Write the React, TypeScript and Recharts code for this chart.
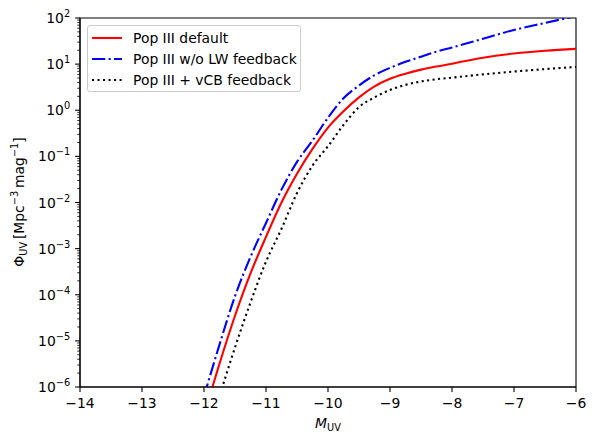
import React from "react";
import { LineChart, Line, XAxis, YAxis, ReferenceArea } from "recharts";

// Absolute UV magnitude grid
const magnitudes = [-12, -11.75, -11.5, -11.25, -11, -10.75, -10.5, -10.25, -10, -9.75, -9.5, -9.25, -9, -8.75, -8.5, -8.25, -8, -7.5, -7, -6.5, -6];

// Phi_UV [Mpc^-3 mag^-1] for each model
const popIIIDefault = [2.4e-7, 3.2e-6, 3.5e-5, 2.9e-4, 1.8e-3, 1.0e-2, 4.2e-2, 0.145, 0.42, 0.95, 1.9, 3.3, 4.8, 6.2, 7.6, 8.9, 10.2, 13.8, 17.0, 19.5, 21.4];
const popIIINoLW = [6.3e-7, 8.3e-6, 9.3e-5, 6.6e-4, 3.6e-3, 1.9e-2, 7.6e-2, 0.22, 0.69, 1.82, 3.45, 5.75, 8.3, 11.2, 14.5, 18.6, 22.9, 35.5, 55, 78, 110];
const popIIIvCB = [5e-8, 6.3e-7, 7.2e-6, 6.8e-5, 5.2e-4, 2.7e-3, 1.6e-2, 6.3e-2, 0.166, 0.48, 1.17, 1.9, 2.75, 3.55, 4.2, 4.7, 5.1, 6.0, 6.9, 7.8, 8.7];

const xTicks = [-14, -13, -12, -11, -10, -9, -8, -7, -6];
const decadeExps = [-6, -5, -4, -3, -2, -1, 0, 1, 2];

const seriesInfo = [
  { key: "def", label: "Pop III default", color: "#ff0000", dash: undefined },
  { key: "nolw", label: "Pop III w/o LW feedback", color: "#0000ff", dash: "13.3 3.3 2.1 3.3" },
  { key: "vcb", label: "Pop III + vCB feedback", color: "#000000", dash: "2.1 3.4" },
];

const data = magnitudes.map((m, i) => ({
  m,
  def: popIIIDefault[i],
  nolw: popIIINoLW[i],
  vcb: popIIIvCB[i],
}));

// major ticks at each decade, minor ticks at 2..9
const yTicks: number[] = [];
decadeExps.forEach((e, idx) => {
  yTicks.push(Math.pow(10, e));
  if (idx < decadeExps.length - 1) {
    for (let k = 2; k <= 9; k++) yTicks.push(k * Math.pow(10, e));
  }
});

const FONT = "DejaVu Sans, sans-serif";

const minus = (v: number) => (v < 0 ? "\u2212" + Math.abs(v) : String(v));

function YTick(props: any) {
  const { x, y, payload } = props;
  const v = payload.value as number;
  const exp = Math.log10(v);
  const isMajor = Math.abs(exp - Math.round(exp)) < 1e-6;
  const len = isMajor ? 4.9 : 2.8;
  return (
    <g>
      <line x1={x - len} x2={x} y1={y} y2={y} stroke="#000" strokeWidth={isMajor ? 1.1 : 0.8} />
      {isMajor && (
        <text x={x - 4.9 - 4.9} y={y + 5} textAnchor="end" fontFamily={FONT} fontSize={13.9} fill="#000">
          10
          <tspan dy={-6} fontSize={9.8}>{minus(Math.round(exp))}</tspan>
        </text>
      )}
    </g>
  );
}

function XTick(props: any) {
  const { x, y, payload } = props;
  return (
    <g>
      <line x1={x} x2={x} y1={y} y2={y + 4.9} stroke="#000" strokeWidth={1.1} />
      <text x={x} y={y + 4.9 + 4.9 + 11} textAnchor="middle" fontFamily={FONT} fontSize={13.9} fill="#000">
        {minus(payload.value)}
      </text>
    </g>
  );
}

function LegendBox() {
  return (
    <div
      style={{
        position: "absolute",
        left: 87,
        top: 25,
        width: 214,
        height: 67,
        boxSizing: "border-box",
        border: "1px solid #cccccc",
        borderRadius: 3,
        background: "rgba(255,255,255,0.8)",
        padding: "1px 0 0 4px",
        fontFamily: FONT,
        fontSize: 13.9,
        color: "#000",
      }}
    >
      {seriesInfo.map((s) => (
        <div key={s.key} style={{ display: "flex", alignItems: "center", height: 21 }}>
          <svg width={30} height={10} style={{ marginRight: 11, flex: "none" }}>
            <line x1={0} x2={30} y1={5} y2={5} stroke={s.color} strokeWidth={2.1} strokeDasharray={s.dash} />
          </svg>
          <span style={{ whiteSpace: "nowrap" }}>{s.label}</span>
        </div>
      ))}
    </div>
  );
}

export default function App() {
  return (
    <div style={{ position: "absolute", left: 0, top: 0, width: 596, height: 443, background: "#fff" }}>
      <LineChart width={596} height={443} data={data} margin={{ top: 18, right: 20, left: 0, bottom: 0 }}>
        <XAxis
          dataKey="m"
          type="number"
          domain={[-14, -6]}
          ticks={xTicks}
          allowDataOverflow
          axisLine={{ stroke: "#000", strokeWidth: 1.1 }}
          tickLine={false}
          tickSize={0}
          tickMargin={0}
          tick={<XTick />}
          height={56}
          label={{
            content: () => (
              <text x={328} y={428} textAnchor="middle" fontFamily={FONT} fontSize={13.9} fill="#000">
                <tspan fontStyle="italic">M</tspan>
                <tspan dy={3} fontSize={9.8}>UV</tspan>
              </text>
            ),
          }}
        />
        <YAxis
          type="number"
          scale="log"
          domain={[1e-6, 100]}
          allowDataOverflow
          ticks={yTicks}
          interval={0}
          width={80}
          axisLine={{ stroke: "#000", strokeWidth: 1.1 }}
          tickLine={false}
          tickSize={0}
          tickMargin={0}
          tick={<YTick />}
          label={{
            content: () => (
              <text
                x={24}
                y={202}
                transform="rotate(-90 24 202)"
                textAnchor="middle"
                fontFamily={FONT}
                fontSize={13.9}
                fill="#000"
              >
                Φ<tspan dy={3} fontSize={9.8}>UV</tspan>
                <tspan dy={-3}>{"\u2009[Mpc"}</tspan>
                <tspan dy={-6} fontSize={9.8}>{"\u22123"}</tspan>
                <tspan dy={6}>{"\u2009mag"}</tspan>
                <tspan dy={-6} fontSize={9.8}>{"\u22121"}</tspan>
                <tspan dy={6}>]</tspan>
              </text>
            ),
          }}
        />
        {seriesInfo.map((s) => (
          <Line
            key={s.key}
            type="monotone"
            dataKey={s.key}
            name={s.label}
            stroke={s.color}
            strokeWidth={2.1}
            strokeDasharray={s.dash}
            dot={false}
            isAnimationActive={false}
          />
        ))}
        <ReferenceArea x1={-14} x2={-6} y1={1e-6} y2={100} fill="none" stroke="#000" strokeWidth={1.1} ifOverflow="visible" />
      </LineChart>
      <LegendBox />
    </div>
  );
}
